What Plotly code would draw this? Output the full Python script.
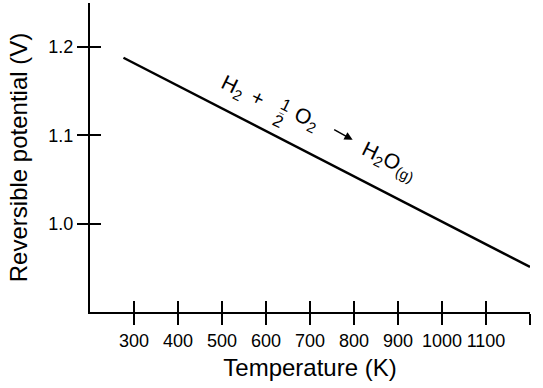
import plotly.graph_objects as go

# Data
temperature_K = [276, 1200]
potential_V = [1.188, 0.951]

x_tick_vals = [300, 400, 500, 600, 700, 800, 900, 1000, 1100, 1200]
x_tick_text = ["300", "400", "500", "600", "700", "800", "900", "1000", "1100", ""]
y_tick_vals = [1.0, 1.1, 1.2]
y_tick_text = ["1.0", "1.1", "1.2"]

x_range = [200, 1200]
y_range = [0.9, 1.25]

# reaction label pieces: (text, T, V, font size)
label_pieces = [
    ("H<sub>2</sub>", 524, 1.1545, 21),
    ("+", 581, 1.1430, 21),
    ("1", 645, 1.1335, 17),
    ("–", 636, 1.1250, 9),
    ("2", 627, 1.1155, 17),
    ("O<sub>2</sub>", 691, 1.1185, 21),
    ("H<sub>2</sub>O<sub>(g)</sub>", 879, 1.0705, 21),
]
label_angle = 26
# reaction arrow: tip position (T, V) and tail offset in pixels
arrow_tip = (797, 1.0950)
arrow_tail_offset = (-20, -11)

FONT = "Liberation Sans, Arial, sans-serif"

fig = go.Figure()
fig.add_trace(go.Scatter(x=temperature_K, y=potential_V, mode="lines",
                         line=dict(color="black", width=2.5),
                         showlegend=False, hoverinfo="skip"))
# invisible trace so the overlay axes (inner halves of ticks) are drawn
fig.add_trace(go.Scatter(x=[x_range[0]], y=[y_range[0]], xaxis="x2", yaxis="y2",
                         mode="markers", marker=dict(opacity=0),
                         showlegend=False, hoverinfo="skip"))

axis_common = dict(showgrid=False, zeroline=False, showline=True,
                   linecolor="black", linewidth=2, tickcolor="black",
                   tickwidth=2, ticklen=11)

fig.update_layout(
    width=543, height=388,
    margin=dict(l=90, r=13, t=3, b=76),
    paper_bgcolor="white", plot_bgcolor="white",
    font=dict(family=FONT, color="black"),
    xaxis=dict(range=x_range, tickmode="array", tickvals=x_tick_vals,
               ticktext=x_tick_text, ticks="outside",
               tickfont=dict(size=18, family=FONT),
               title=dict(text="Temperature (K)", font=dict(size=24, family=FONT),
                          standoff=10),
               **axis_common),
    yaxis=dict(range=y_range, tickmode="array", tickvals=y_tick_vals,
               ticktext=y_tick_text, ticks="outside",
               tickfont=dict(size=18, family=FONT),
               title=dict(text="Reversible potential (V)",
                          font=dict(size=24, family=FONT), standoff=14),
               **axis_common),
    xaxis2=dict(range=x_range, overlaying="x", anchor="y2", side="bottom",
                tickmode="array", tickvals=x_tick_vals, ticks="inside",
                showticklabels=False, **axis_common),
    yaxis2=dict(range=y_range, overlaying="y", anchor="x2", side="left",
                tickmode="array", tickvals=y_tick_vals, ticks="inside",
                showticklabels=False, **axis_common),
)

for text, tx, ty, size in label_pieces:
    fig.add_annotation(x=tx, y=ty, text=text, showarrow=False,
                       textangle=label_angle,
                       font=dict(size=size, family=FONT, color="black"))

fig.add_annotation(x=arrow_tip[0], y=arrow_tip[1], text="", showarrow=True,
                   ax=arrow_tail_offset[0], ay=arrow_tail_offset[1],
                   arrowhead=2, arrowsize=1.1, arrowwidth=1.5,
                   arrowcolor="black", standoff=0, startstandoff=0)

fig.write_html("out.html", config={"displayModeBar": False},
               post_script="document.body.style.margin='0';")
